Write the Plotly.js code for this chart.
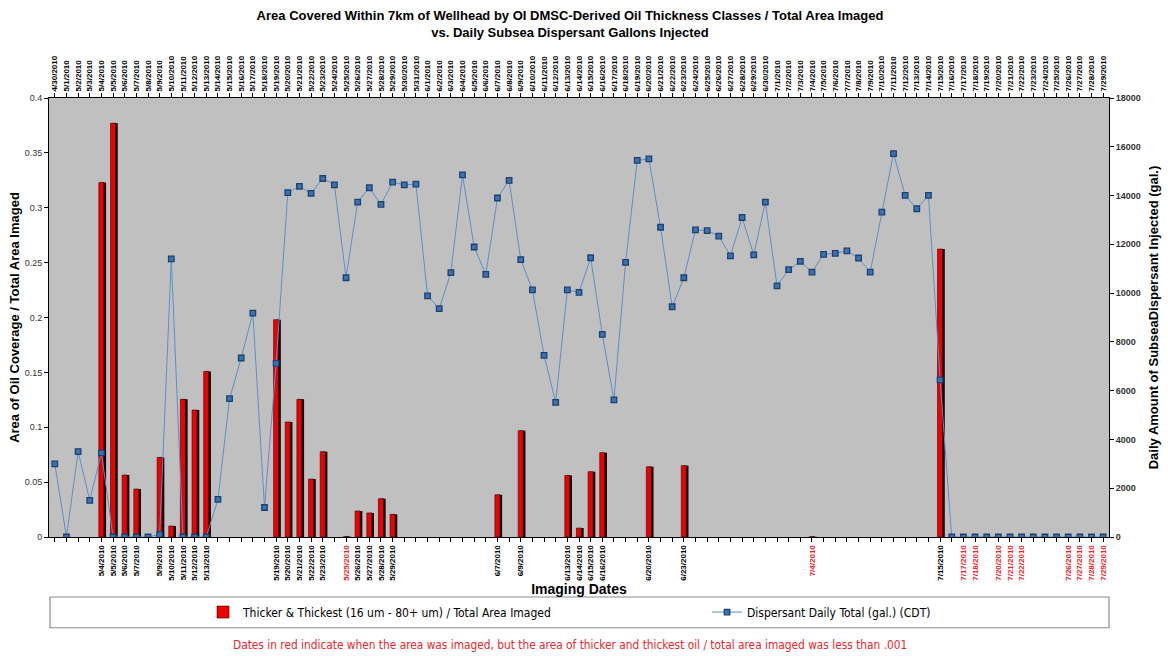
<!DOCTYPE html>
<html>
<head>
<meta charset="utf-8">
<script src="https://cdn.plot.ly/plotly-3.0.1.min.js"></script>
<style>html,body{margin:0;padding:0;background:#fff;}#chart{width:1168px;height:656px;}</style>
</head>
<body>
<div id="chart"></div>
<script>
// All calendar dates on the top axis
const dates = [
 "4/30/2010",
 "5/1/2010","5/2/2010","5/3/2010","5/4/2010","5/5/2010","5/6/2010","5/7/2010","5/8/2010","5/9/2010","5/10/2010",
 "5/11/2010","5/12/2010","5/13/2010","5/14/2010","5/15/2010","5/16/2010","5/17/2010","5/18/2010","5/19/2010","5/20/2010",
 "5/21/2010","5/22/2010","5/23/2010","5/24/2010","5/25/2010","5/26/2010","5/27/2010","5/28/2010","5/29/2010","5/30/2010","5/31/2010",
 "6/1/2010","6/2/2010","6/3/2010","6/4/2010","6/5/2010","6/6/2010","6/7/2010","6/8/2010","6/9/2010","6/10/2010",
 "6/11/2010","6/12/2010","6/13/2010","6/14/2010","6/15/2010","6/16/2010","6/17/2010","6/18/2010","6/19/2010","6/20/2010",
 "6/21/2010","6/22/2010","6/23/2010","6/24/2010","6/25/2010","6/26/2010","6/27/2010","6/28/2010","6/29/2010","6/30/2010",
 "7/1/2010","7/2/2010","7/3/2010","7/4/2010","7/5/2010","7/6/2010","7/7/2010","7/8/2010","7/9/2010","7/10/2010",
 "7/11/2010","7/12/2010","7/13/2010","7/14/2010","7/15/2010","7/16/2010","7/17/2010","7/18/2010","7/19/2010","7/20/2010",
 "7/21/2010","7/22/2010","7/23/2010","7/24/2010","7/25/2010","7/26/2010","7/27/2010","7/28/2010","7/29/2010"
];

// Dispersant daily total (gal.), one per date above
const dispersant = [
 3000,
 0,3500,1500,3450,0,0,0,0,100,11400,
 0,0,0,1540,5670,7340,9180,1210,7120,14120,
 14380,14090,14700,14440,10630,13730,14320,13640,14550,14440,14470,
 9890,9360,10840,14850,11890,10770,13900,14620,11370,10130,
 7450,5520,10130,10030,11450,8310,5620,11260,15440,15500,
 12700,9440,10630,12590,12560,12340,11530,13100,11570,13730,
 10300,10960,11300,10860,11590,11630,11730,11440,10860,13320,
 15720,14010,13460,14010,6440,0,0,0,0,0,
 0,0,0,0,0,0,0,0,0
];

// Imaging dates and thicker & thickest / total area imaged
const imagingDates = [
 "5/4/2010","5/5/2010","5/6/2010","5/7/2010","5/9/2010","5/10/2010","5/11/2010","5/12/2010","5/13/2010",
 "5/19/2010","5/20/2010","5/21/2010","5/22/2010","5/23/2010","5/25/2010","5/26/2010","5/27/2010","5/28/2010","5/29/2010",
 "6/7/2010","6/9/2010","6/13/2010","6/14/2010","6/15/2010","6/16/2010","6/20/2010","6/23/2010",
 "7/4/2010","7/15/2010","7/17/2010","7/18/2010","7/20/2010","7/21/2010","7/22/2010","7/26/2010","7/27/2010","7/28/2010","7/29/2010"
];
const thickFraction = [
 0.323,0.377,0.0565,0.0437,0.0725,0.010,0.1254,0.1157,0.1509,
 0.198,0.1048,0.1254,0.0528,0.0777,0.0005,0.0237,0.0219,0.0349,0.0206,
 0.0385,0.0969,0.0561,0.0082,0.0595,0.0768,0.064,0.065,
 0.0003,0.2624,0,0,0,0,0,0,0,0,0
];

const THRESH = 0.001;
const lowSet = new Set(imagingDates.filter((d,i)=>thickFraction[i] < THRESH));
const imgSet = new Set(imagingDates);

const bottomText = dates.map(d => {
  if (!imgSet.has(d)) return "";
  return lowSet.has(d) ? '<span style="color:#e8262c">' + d + '</span>' : d;
});
const topText = dates.slice();

const cond = '"DejaVu Sans Condensed", "Liberation Sans Narrow", Arial, sans-serif';
const sans = '"Liberation Sans", Arial, sans-serif';

const traces = [
  { // shadow
    type: 'bar', x: imagingDates, y: thickFraction, xaxis: 'x', yaxis: 'y',
    width: 0.45, offset: -0.05,
    marker: {color: '#000000', line: {width: 0}},
    showlegend: false, hoverinfo: 'skip'
  },
  {
    type: 'bar', x: imagingDates, y: thickFraction, xaxis: 'x', yaxis: 'y',
    name: 'Thicker & Thickest (16 um - 80+ um) / Total Area Imaged',
    legend: 'legend',
    width: 0.43, offset: -0.22,
    marker: {color: '#ee0000', line: {color: '#3a0000', width: 0.6}}
  },
  {
    type: 'scatter', mode: 'lines+markers', x: dates, y: dispersant, xaxis: 'x2', yaxis: 'y2',
    name: 'Dispersant Daily Total (gal.) (CDT)',
    legend: 'legend2',
    line: {color: '#5b8fc9', width: 1},
    marker: {symbol: 'square', size: 5.5, color: '#3d72b0', line: {color: '#1c416f', width: 1.3}}
  }
];

const tickFontX = {family: sans, size: 8, color: '#000', weight: 'bold'};

const layout = {
  width: 1168, height: 656,
  margin: {l: 49, r: 59, t: 98, b: 119},
  paper_bgcolor: '#ffffff',
  plot_bgcolor: '#c0c0c0',
  barmode: 'overlay',
  showlegend: true,
  font: {family: sans, color: '#000'},
  title: {
    text: 'Area Covered Within 7km of Wellhead by OI DMSC-Derived Oil Thickness Classes / Total Area Imaged<br>vs. Daily Subsea Dispersant Gallons Injected',
    font: {family: sans, size: 13, color: '#000', weight: 'bold'},
    xref: 'container', x: 0.488, xanchor: 'center',
    yref: 'container', y: 0.969, yanchor: 'top'
  },
  xaxis: {
    type: 'category', categoryorder: 'array', categoryarray: dates,
    range: [-0.5, dates.length - 0.5],
    tickmode: 'array', tickvals: dates, ticktext: bottomText,
    tickangle: -90, ticks: 'outside', ticklen: 4, tickcolor: '#000',
    tickfont: tickFontX,
    showline: true, linecolor: '#000', linewidth: 1,
    showgrid: false, zeroline: false,
    title: {text: 'Imaging Dates', font: {family: sans, size: 14, color: '#000', weight: 'bold'}, standoff: 0},
    fixedrange: true
  },
  xaxis2: {
    type: 'category', categoryorder: 'array', categoryarray: dates,
    overlaying: 'x', side: 'top', anchor: 'y2',
    range: [-0.5, dates.length - 0.5],
    tickmode: 'array', tickvals: dates, ticktext: topText,
    tickangle: -90, ticks: 'outside', ticklen: 4, tickcolor: '#000',
    tickfont: tickFontX,
    showline: true, linecolor: '#000', linewidth: 1,
    showgrid: false, zeroline: false
  },
  yaxis: {
    range: [0, 0.4], dtick: 0.05, tick0: 0,
    ticks: 'outside', ticklen: 4, tickcolor: '#000',
    tickfont: {family: sans, size: 9, color: '#333'},
    showline: true, linecolor: '#000', linewidth: 1,
    showgrid: false, zeroline: false,
    title: {text: 'Area of Oil Coverage / Total Area Imaged', font: {family: sans, size: 13, color: '#000', weight: 'bold'}, standoff: 2}
  },
  yaxis2: {
    overlaying: 'y', side: 'right', anchor: 'x2',
    range: [0, 18000], dtick: 2000, tick0: 0, tickformat: 'd',
    ticks: 'outside', ticklen: 4, tickcolor: '#000',
    tickfont: {family: sans, size: 9, color: '#333', weight: 'bold'},
    showline: true, linecolor: '#000', linewidth: 1,
    showgrid: false, zeroline: false,
    title: {text: 'Daily Amount of SubseaDispersant Injected (gal.)', font: {family: sans, size: 13, color: '#000', weight: 'bold'}, standoff: 9}
  },
  legend: {
    orientation: 'h', x: 0.1453, xanchor: 'left', y: -0.171, yanchor: 'middle',
    bgcolor: 'rgba(0,0,0,0)', borderwidth: 0,
    font: {family: cond, size: 12, color: '#000'},
    itemwidth: 30
  },
  legend2: {
    orientation: 'h', x: 0.6208, xanchor: 'left', y: -0.171, yanchor: 'middle',
    bgcolor: 'rgba(0,0,0,0)', borderwidth: 0,
    font: {family: cond, size: 12, color: '#000'},
    itemwidth: 30
  },
  shapes: [
    {type: 'rect', xref: 'paper', yref: 'paper', x0: 0.001, x1: 1.0, y0: -0.2067, y1: -0.1367,
     line: {color: '#8c8c8c', width: 1.2}, fillcolor: 'rgba(0,0,0,0)', layer: 'above'}
  ],
  annotations: [
    {text: 'Dates in red indicate when the area was imaged, but the area of thicker and thickest oil / total area imaged was less than .001',
     xref: 'paper', yref: 'paper', x: 0.4915, y: -0.246, xanchor: 'center', yanchor: 'middle', showarrow: false,
     font: {family: cond, size: 11.8, color: '#e8262c'}}
  ]
};

Plotly.newPlot('chart', traces, layout, {displayModeBar: false, staticPlot: true});
</script>
</body>
</html>
